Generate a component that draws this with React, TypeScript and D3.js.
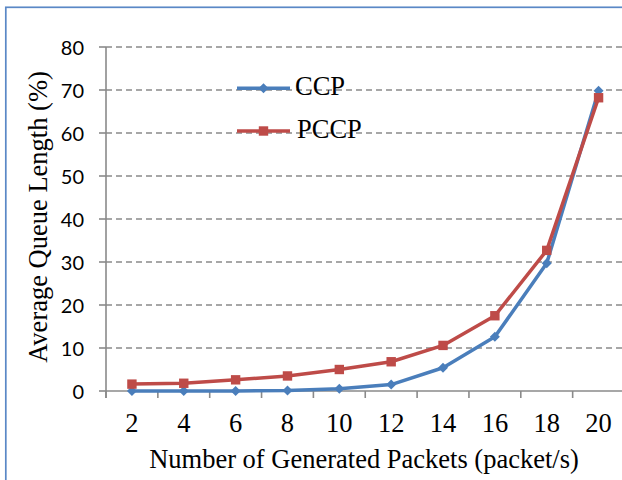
import React from "react";
import * as d3 from "d3";

const categories = ["2", "4", "6", "8", "10", "12", "14", "16", "18", "20"];
const ccp = [0, 0, 0, 0.1, 0.5, 1.5, 5.4, 12.6, 29.7, 69.8];
const pccp = [1.6, 1.8, 2.6, 3.5, 5.0, 6.8, 10.6, 17.5, 32.7, 68.2];
const yTicks = [0, 10, 20, 30, 40, 50, 60, 70, 80];
const seriesNames = ["CCP", "PCCP"];

const W = 622;
const H = 480;
const left = 106;
const bandW = 51.85;
const y0 = 391;
const yTop = 47;

const BLUE = "#4a7ebb";
const RED = "#be4b48";
const GRID = "#8a8a8a";
const SERIF = "'Liberation Serif', 'Times New Roman', serif";
const SANS = "Lato, 'Noto Sans', sans-serif";

export default function App() {
  const x = d3
    .scaleBand<string>()
    .domain(categories)
    .range([left, left + bandW * categories.length])
    .padding(0);
  const y = d3.scaleLinear().domain([0, 80]).range([y0, yTop]);
  const cx = (c: string) => (x(c) as number) + x.bandwidth() / 2;

  const line = d3
    .line<number>()
    .x((_, i) => cx(categories[i]))
    .y((d) => y(d));

  const diamond = (px: number, py: number, r = 5) =>
    `M${px},${py - r}L${px + r},${py}L${px},${py + r}L${px - r},${py}Z`;

  const boundaries = d3.range(categories.length + 1).map((i) => left + i * x.bandwidth());

  return (
    <svg
      width={W}
      height={H}
      style={{ position: "absolute", left: 0, top: 0, background: "#fff" }}
    >
      <rect x={0} y={0} width={W} height={H} fill="#fff" />
      <rect
        x={5.8}
        y={7.3}
        width={W + 10}
        height={H + 10}
        fill="none"
        stroke="#5a88c6"
        strokeWidth={1.7}
      />
      {/* gridlines */}
      {yTicks
        .filter((t) => t > 0)
        .map((t) => (
          <line
            key={"g" + t}
            x1={left}
            x2={W + 5}
            y1={y(t)}
            y2={y(t)}
            stroke={GRID}
            strokeWidth={1.6}
            strokeDasharray="6,4"
          />
        ))}
      {/* y axis */}
      <line x1={left} x2={left} y1={y(80)} y2={y0 + 7} stroke={GRID} strokeWidth={1.6} />
      {yTicks.map((t) => (
        <g key={"yt" + t}>
          <line x1={left - 7} x2={left} y1={y(t)} y2={y(t)} stroke={GRID} strokeWidth={1.6} />
          <text
            x={84}
            y={y(t)}
            textAnchor="end"
            dominantBaseline="central"
            fontFamily={SANS}
            fontSize={20}
            fill="#000"
          >
            {t}
          </text>
        </g>
      ))}
      {/* x axis */}
      <line x1={left} x2={W + 5} y1={y0} y2={y0} stroke={GRID} strokeWidth={1.6} />
      {boundaries.map((b, i) => (
        <line key={"xt" + i} x1={b} x2={b} y1={y0} y2={y0 + 7} stroke={GRID} strokeWidth={1.6} />
      ))}
      {categories.map((c) => (
        <text
          key={"xl" + c}
          x={cx(c)}
          y={431.5}
          textAnchor="middle"
          fontFamily={SERIF}
          fontSize={26.5}
          fill="#000"
        >
          {c}
        </text>
      ))}
      {/* axis titles */}
      <text
        x={364}
        y={468}
        textAnchor="middle"
        fontFamily={SERIF}
        fontSize={26.5}
        fill="#000"
      >
        Number of Generated Packets (packet/s)
      </text>
      <text
        transform={`translate(46.5,217) rotate(-90)`}
        textAnchor="middle"
        fontFamily={SERIF}
        fontSize={26.5}
        fill="#000"
      >
        Average Queue Length (%)
      </text>
      {/* series */}
      <path d={line(ccp) || ""} fill="none" stroke={BLUE} strokeWidth={3.5} strokeLinejoin="round" />
      {ccp.map((v, i) => (
        <path key={"cm" + i} d={diamond(cx(categories[i]), y(v))} fill={BLUE} />
      ))}
      <path d={line(pccp) || ""} fill="none" stroke={RED} strokeWidth={3.5} strokeLinejoin="round" />
      {pccp.map((v, i) => (
        <rect
          key={"pm" + i}
          x={cx(categories[i]) - 4.7}
          y={y(v) - 4.7}
          width={9.4}
          height={9.4}
          fill={RED}
        />
      ))}
      {/* legend */}
      <g>
        <line x1={237} x2={290} y1={88.3} y2={88.3} stroke={BLUE} strokeWidth={3.5} />
        <path d={diamond(263.5, 88.3)} fill={BLUE} />
        <text x={295} y={95} fontFamily={SERIF} fontSize={26.5} fill="#000">
          {seriesNames[0]}
        </text>
        <line x1={237} x2={290} y1={131} y2={131} stroke={RED} strokeWidth={3.5} />
        <rect x={263.5 - 4.7} y={131 - 4.7} width={9.4} height={9.4} fill={RED} />
        <text x={297} y={138} fontFamily={SERIF} fontSize={26.5} fill="#000">
          {seriesNames[1]}
        </text>
      </g>
    </svg>
  );
}
